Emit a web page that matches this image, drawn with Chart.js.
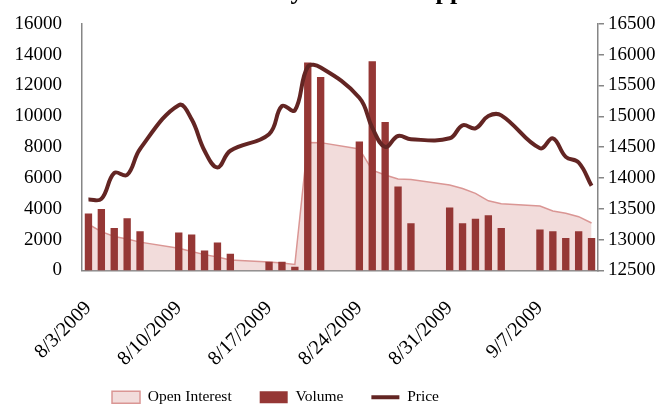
<!DOCTYPE html>
<html>
<head>
<meta charset="utf-8">
<script src="https://cdn.jsdelivr.net/npm/chart.js@4.4.1/dist/chart.umd.min.js"></script>
<style>
  html, body { margin: 0; padding: 0; background: #fff; overflow: hidden; }
  #wrap { position: absolute; left: 0; top: -23px; width: 667px; height: 447px; }
</style>
</head>
<body>
<div id="wrap"><canvas id="chart"></canvas></div>
<script>
// one slot per calendar day, weekends left empty
const days = [
  '8/3/2009', '8/4/2009', '8/5/2009', '8/6/2009', '8/7/2009', '8/8/2009', '8/9/2009',
  '8/10/2009', '8/11/2009', '8/12/2009', '8/13/2009', '8/14/2009', '8/15/2009', '8/16/2009',
  '8/17/2009', '8/18/2009', '8/19/2009', '8/20/2009', '8/21/2009', '8/22/2009', '8/23/2009',
  '8/24/2009', '8/25/2009', '8/26/2009', '8/27/2009', '8/28/2009', '8/29/2009', '8/30/2009',
  '8/31/2009', '9/1/2009', '9/2/2009', '9/3/2009', '9/4/2009', '9/5/2009', '9/6/2009',
  '9/7/2009', '9/8/2009', '9/9/2009', '9/10/2009', '9/11/2009'
];

const volume = [
  3700, 3990, 2760, 3380, 2540, null, null,
  2460, 2330, 1290, 1810, 1080, null, null,
  560, 560, 240, 13490, 12540, null, null,
  8360, 13570, 9630, 5450, 3060, null, null,
  4090, 3060, 3360, 3580, 2760, null, null,
  2650, 2540, 2110, 2540, 2110
];

const openInterest = [
  3000, 2520, 2200, 2040, 1840, null, null,
  1440, 1230, 1030, 870, 680, null, null,
  550, 480, 390, 8300, 8290, null, null,
  7880, 6510, 6190, 5930, 5900, null, null,
  5540, 5320, 5000, 4520, 4330, null, null,
  4180, 3860, 3710, 3490, 3080
];

const price = [
  13650, 13660, 14080, 14050, 14470, null, null,
  15180, 14950, 14440, 14170, 14440, null, null,
  14710, 15165, 15096, 15800, 15790, null, null,
  15300, 14815, 14503, 14680, 14627, null, null,
  14643, 14853, 14805, 15004, 15015, null, null,
  14482, 14643, 14342, 14250, 13873
];

const volumeTicks = [0, 2000, 4000, 6000, 8000, 10000, 12000, 14000, 16000];
const priceTicks = [12500, 13000, 13500, 14000, 14500, 15000, 15500, 16000, 16500];

const serif = "'Liberation Serif', 'Times New Roman', serif";
const axisGrey = '#868686';

// nudge title and legend after layout
const shiftBlocks = {
  id: 'shiftBlocks',
  afterLayout(chart) {
    const t = chart.titleBlock;
    if (t) { t.left += 18; t.right += 18; }
    const l = chart.legend;
    if (l) {
      l.left -= 58; l.right -= 58;
      l.top -= 9; l.bottom -= 9;
    }
  }
};

new Chart(document.getElementById('chart'), {
  type: 'bar',
  data: {
    labels: days,
    datasets: [
      {
        type: 'line',
        label: 'Open Interest',
        data: openInterest,
        yAxisID: 'y',
        fill: 'origin',
        backgroundColor: '#F2DCDB',
        borderColor: '#DA9694',
        borderWidth: 1.5,
        tension: 0,
        spanGaps: true,
        pointRadius: 0,
        pointHoverRadius: 0,
        pointStyle: 'rect',
        pointBackgroundColor: '#F2DCDB',
        pointBorderColor: '#DA9694',
        pointBorderWidth: 1.5,
        order: 3
      },
      {
        type: 'bar',
        label: 'Volume',
        data: volume,
        yAxisID: 'y',
        backgroundColor: '#953735',
        borderWidth: 0,
        barPercentage: 0.57,
        categoryPercentage: 1,
        pointStyle: 'rect',
        order: 2
      },
      {
        type: 'line',
        label: 'Price',
        data: price,
        yAxisID: 'y1',
        fill: false,
        borderColor: '#632523',
        backgroundColor: '#632523',
        borderWidth: 4,
        tension: 0.4,
        spanGaps: true,
        pointRadius: 0,
        pointHoverRadius: 0,
        pointStyle: 'line',
        pointBorderColor: '#632523',
        pointBorderWidth: 4,
        order: 1
      }
    ]
  },
  options: {
    responsive: true,
    maintainAspectRatio: false,
    animation: false,
    layout: { padding: 0 },
    plugins: {
      title: {
        display: true,
        text: 'Activity of LME Copper',
        color: '#000',
        font: { family: serif, size: 26, weight: 'bold' },
        padding: { top: 0, bottom: 15.5 }
      },
      legend: {
        position: 'bottom',
        labels: {
          sort: (a, b) => a.datasetIndex - b.datasetIndex,
          usePointStyle: true,
          pointStyleWidth: 28,
          boxHeight: 12,
          padding: 28,
          color: '#000',
          font: { family: serif, size: 15.5 }
        }
      },
      tooltip: { enabled: false }
    },
    scales: {
      x: {
        offset: true,
        grid: { display: false },
        border: { color: axisGrey, width: 1.5 },
        afterFit: s => { s.height = 100; },
        ticks: {
          autoSkip: false,
          minRotation: 45,
          maxRotation: 45,
          padding: 18,
          color: '#000',
          font: { family: serif, size: 20 },
          callback: function (v, i) { return i % 7 === 0 ? this.getLabelForValue(v) : ''; }
        }
      },
      y: {
        position: 'left',
        min: 0,
        max: 16000,
        afterFit: s => { s.width = 82; },
        afterBuildTicks: s => { s.ticks = volumeTicks.map(v => ({ value: v })); },
        grid: { display: false },
        border: { color: axisGrey, width: 1.5 },
        ticks: {
          padding: 12,
          color: '#000',
          font: { family: serif, size: 19 },
          callback: v => String(v)
        }
      },
      y1: {
        position: 'right',
        min: 12500,
        max: 16500,
        afterFit: s => { s.width = 69; },
        afterBuildTicks: s => { s.ticks = priceTicks.map(v => ({ value: v })); },
        grid: { drawOnChartArea: false, color: axisGrey, lineWidth: 1.5, tickLength: 6 },
        border: { color: axisGrey, width: 1.5 },
        ticks: {
          padding: 4,
          color: '#000',
          font: { family: serif, size: 19 },
          callback: v => String(v)
        }
      }
    }
  },
  plugins: [shiftBlocks]
});
</script>
</body>
</html>
